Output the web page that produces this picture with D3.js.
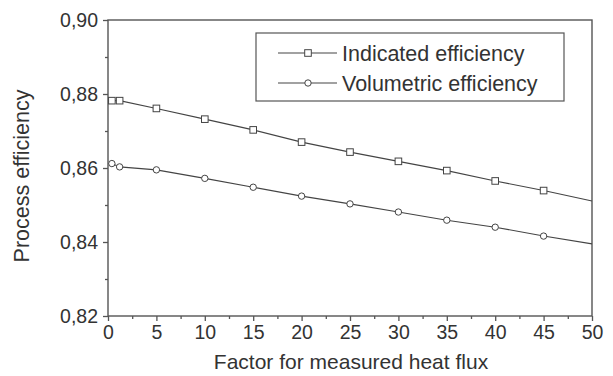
<!DOCTYPE html>
<html>
<head>
<meta charset="utf-8">
<script src="https://cdn.jsdelivr.net/npm/d3@7"></script>
<style>
  html, body { margin: 0; padding: 0; background: #fff; }
  svg { display: block; font-family: "Liberation Sans", Arial, Helvetica, sans-serif; }
</style>
</head>
<body>
<svg id="chart" width="613" height="376"></svg>
<script>
// ---- data ----
const factors = [0.4, 1.2, 5, 10, 15, 20, 25, 30, 35, 40, 45, 50];
const indicated = [0.8782, 0.8782, 0.8761, 0.8732, 0.8703, 0.8670, 0.8643, 0.8618, 0.8593, 0.8565, 0.8539, 0.8511];
const volumetric = [0.8612, 0.8603, 0.8595, 0.8572, 0.8548, 0.8524, 0.8503, 0.8481, 0.8459, 0.8440, 0.8416, 0.8395];
const markerShown = [true, true, true, true, true, true, true, true, true, true, true, false];
const seriesNames = ["Indicated efficiency", "Volumetric efficiency"];
const xTicks = [0, 5, 10, 15, 20, 25, 30, 35, 40, 45, 50];
const xMinorTicks = [2.5, 7.5, 12.5, 17.5, 22.5, 27.5, 32.5, 37.5, 42.5, 47.5];
const yTicks = [0.82, 0.84, 0.86, 0.88, 0.90];
const yMinorTicks = [0.83, 0.85, 0.87, 0.89];
const xTitle = "Factor for measured heat flux";
const yTitle = "Process efficiency";

// ---- layout ----
const svg = d3.select("#chart");
const x = d3.scaleLinear().domain([0, 50]).range([108, 592]);
const y = d3.scaleLinear().domain([0.82, 0.90]).range([316, 20]);
const axisColor = "#555";
const lineColor = "#444";
const textColor = "#333";

// frame
svg.append("rect")
  .attr("x", x(0)).attr("y", y(0.90))
  .attr("width", x(50) - x(0)).attr("height", y(0.82) - y(0.90))
  .attr("fill", "none").attr("stroke", axisColor).attr("stroke-width", 1.4);

function styleAxis(g) {
  g.select(".domain").remove();
  g.selectAll("line").attr("stroke", axisColor).attr("stroke-width", 1.3);
  g.selectAll("text").attr("fill", textColor).style("font-size", "19.5px");
}

// x axis
svg.append("g").attr("transform", `translate(0,${y(0.82)})`)
  .call(d3.axisBottom(x).tickValues(xTicks).tickSize(5).tickPadding(4).tickFormat(d => String(d)))
  .call(styleAxis);
svg.append("g").attr("transform", `translate(0,${y(0.82)})`)
  .call(d3.axisBottom(x).tickValues(xMinorTicks).tickSize(3).tickFormat(""))
  .call(styleAxis);

// y axis
svg.append("g").attr("transform", `translate(${x(0)},0)`)
  .call(d3.axisLeft(y).tickValues(yTicks).tickSize(5).tickPadding(5)
    .tickFormat(d => d.toFixed(2).replace(".", ",")))
  .call(styleAxis);
svg.append("g").attr("transform", `translate(${x(0)},0)`)
  .call(d3.axisLeft(y).tickValues(yMinorTicks).tickSize(3).tickFormat(""))
  .call(styleAxis);

// titles
svg.append("text")
  .attr("x", 351).attr("y", 369)
  .attr("text-anchor", "middle").attr("fill", textColor)
  .style("font-size", "21px").text(xTitle);
svg.append("text")
  .attr("transform", "translate(29,176) rotate(-90)")
  .attr("text-anchor", "middle").attr("fill", textColor)
  .style("font-size", "21.5px").text(yTitle);

// series
const series = [
  { name: seriesNames[0], values: indicated, shape: "square" },
  { name: seriesNames[1], values: volumetric, shape: "circle" }
];
const line = d3.line().x(d => x(d.x)).y(d => y(d.y));

function drawMarker(g, shape, cx, cy) {
  if (shape === "square") {
    g.append("rect").attr("x", cx - 3.3).attr("y", cy - 3.3)
      .attr("width", 6.6).attr("height", 6.6)
      .attr("fill", "#fff").attr("stroke", lineColor).attr("stroke-width", 1);
  } else {
    g.append("circle").attr("cx", cx).attr("cy", cy).attr("r", 3.2)
      .attr("fill", "#fff").attr("stroke", lineColor).attr("stroke-width", 1);
  }
}

series.forEach(s => {
  const pts = factors.map((f, i) => ({ x: f, y: s.values[i], m: markerShown[i] }));
  const g = svg.append("g");
  g.append("path").datum([{ x: 0, y: s.values[0] }].concat(pts))
    .attr("d", line).attr("fill", "none")
    .attr("stroke", lineColor).attr("stroke-width", 1.1);
  pts.filter(p => p.m).forEach(p => drawMarker(g, s.shape, x(p.x), y(p.y)));
});

// legend
const lg = svg.append("g");
lg.append("rect").attr("x", 256).attr("y", 33).attr("width", 308).attr("height", 68)
  .attr("fill", "#fff").attr("stroke", axisColor).attr("stroke-width", 1.2);
series.forEach((s, i) => {
  const cy = 53 + i * 30;
  lg.append("line").attr("x1", 278).attr("x2", 337).attr("y1", cy).attr("y2", cy)
    .attr("stroke", lineColor).attr("stroke-width", 1.1);
  drawMarker(lg, s.shape, 308, cy);
  lg.append("text").attr("x", 342).attr("y", cy + 7.5)
    .attr("fill", textColor).style("font-size", "21.5px").text(s.name);
});
</script>
</body>
</html>
